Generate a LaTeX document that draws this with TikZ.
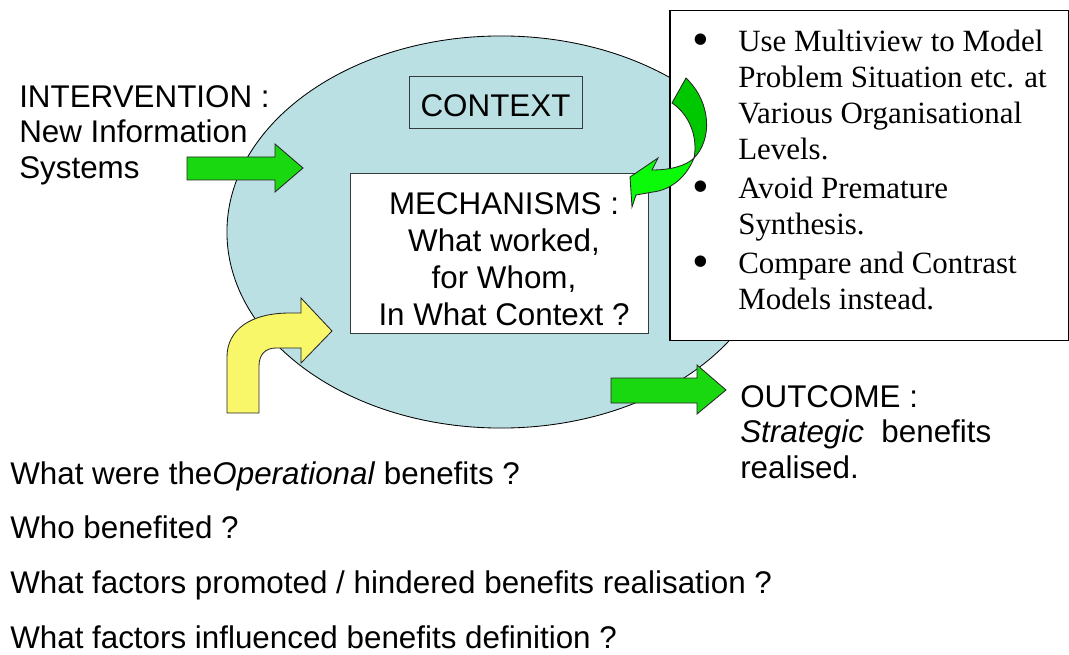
\documentclass[tikz,border=0pt]{standalone}
\usepackage{fontspec}
\setmainfont{Liberation Serif}
\setsansfont{Liberation Sans}
\usetikzlibrary{positioning, shapes.geometric}
\definecolor{ctxblue}{RGB}{187, 224, 227}
\definecolor{flatgreen}{RGB}{26, 216, 16}
\definecolor{darkgreen}{RGB}{0, 200, 0}
\definecolor{limegreen}{RGB}{10, 250, 10}
\definecolor{paleyellow}{RGB}{248, 246, 105}
\definecolor{edgegray}{RGB}{50, 60, 60}
\newcommand{\bigbullet}{\raisebox{-0.12em}{\fontsize{34}{25.6}\selectfont\textbullet}}

\begin{document}
\begin{tikzpicture}[
  x=0.025cm, y=-0.025cm,
  sanslabel/.style={font=\fontsize{22.3}{25.4}\selectfont\sffamily, inner sep=0pt, align=left, anchor=north west},
  question/.style={font=\fontsize{22.3}{25.4}\selectfont\sffamily, inner sep=0pt, text height=0.55cm, text depth=0.05cm, anchor=north west},
  context/.style={ellipse, draw=black, line width=0.6pt, fill=ctxblue, minimum width=13.7cm, minimum height=9.8cm, inner sep=0pt},
  ctxbox/.style={rectangle, draw=edgegray, line width=0.6pt, minimum width=4.325cm, minimum height=1.3cm, inner sep=0pt, text height=0.75cm, font=\fontsize{22.3}{25.4}\selectfont\sffamily},
  mechbox/.style={rectangle, draw=edgegray, line width=0.6pt, fill=white, minimum width=7.45cm, minimum height=4cm},
  notebox/.style={rectangle, draw=black, line width=0.8pt, fill=white, minimum width=9.95cm, minimum height=8.24cm},
  blockarrow/.style={draw=black!85, line width=0.6pt, line join=miter}
]
  \useasboundingbox (0,0) rectangle (1069,655);

  % context ellipse with its two boxes
  \node[context] (ctx) at (501,232) {};
  \node[ctxbox] (ctxlabel) at (495.5,102) {CONTEXT};
  \node[mechbox] (mech) at (499,253) {};
  \node[font=\fontsize{22.3}{26.2}\selectfont\sffamily, align=center, inner sep=0pt] (mechtext) at (504,259)
    {MECHANISMS :\\What worked,\\for Whom,\\In What Context ?};

  % advice box on the right
  \node[notebox] (notes) at (869,175.5) {};
  \node[anchor=north west, inner sep=0pt, font=\fontsize{22}{25.6}\selectfont\rmfamily] (advice) at (692,26.5) {%
    \begin{tabular}{@{}p{1.15cm}@{}l@{}}
      \bigbullet & Use Multiview to Model\\
                 & Problem Situation etc. at\\
                 & Various Organisational\\
                 & Levels.\\[2pt]
      \bigbullet & Avoid Premature\\
                 & Synthesis.\\[2pt]
      \bigbullet & Compare and Contrast\\
                 & Models instead.
    \end{tabular}};

  % curved arrow from the advice back to the mechanisms
  \draw[blockarrow, fill=darkgreen] (686,78) .. controls (712,103) and (712,140) .. (694,158)
    .. controls (698,138) and (690,115) .. (672,103) -- cycle;
  \draw[blockarrow, fill=limegreen] (694,158) .. controls (686,178) and (670,190) .. (653,192)
    -- (636,195) -- (632,207) -- (630,177) -- (658,158) -- (652,170)
    .. controls (670,170) and (686,166) .. (694,158) -- cycle;

  % block arrows
  \draw[blockarrow, fill=flatgreen] (187,157) -- (275,157) -- (275,144) -- (303,168)
    -- (275,192) -- (275,180) -- (187,180) -- cycle;
  \draw[blockarrow, fill=flatgreen] (611,378) -- (697,378) -- (697,365) -- (726,390)
    -- (697,414) -- (697,403) -- (611,403) -- cycle;
  \draw[blockarrow, fill=paleyellow] (227,413) -- (227,357) .. controls (227,330) and (250,313) .. (290,313)
    -- (301,313) -- (301,298) -- (332,331) -- (301,363) -- (301,348) -- (276,348)
    .. controls (265,348) and (259,355) .. (259,366) -- (259,413) -- cycle;

  % labels
  \node[sanslabel] (intervention) at (19,85) {INTERVENTION :\\New Information\\Systems};
  \node[sanslabel] (outcome) at (740,385) {OUTCOME :\\\textit{Strategic}\ \ benefits\\realised.};

  % questions
  \node[question] (q1) at (10,462) {What were the\textit{Operational} benefits ?};
  \node[question, below=0.75cm of q1.south west, anchor=north west] (q2) {Who benefited ?};
  \node[question, below=0.75cm of q2.south west, anchor=north west] (q3) {What factors promoted / hindered benefits realisation ?};
  \node[question, below=0.75cm of q3.south west, anchor=north west] (q4) {What factors influenced benefits definition ?};
\end{tikzpicture}
\end{document}
